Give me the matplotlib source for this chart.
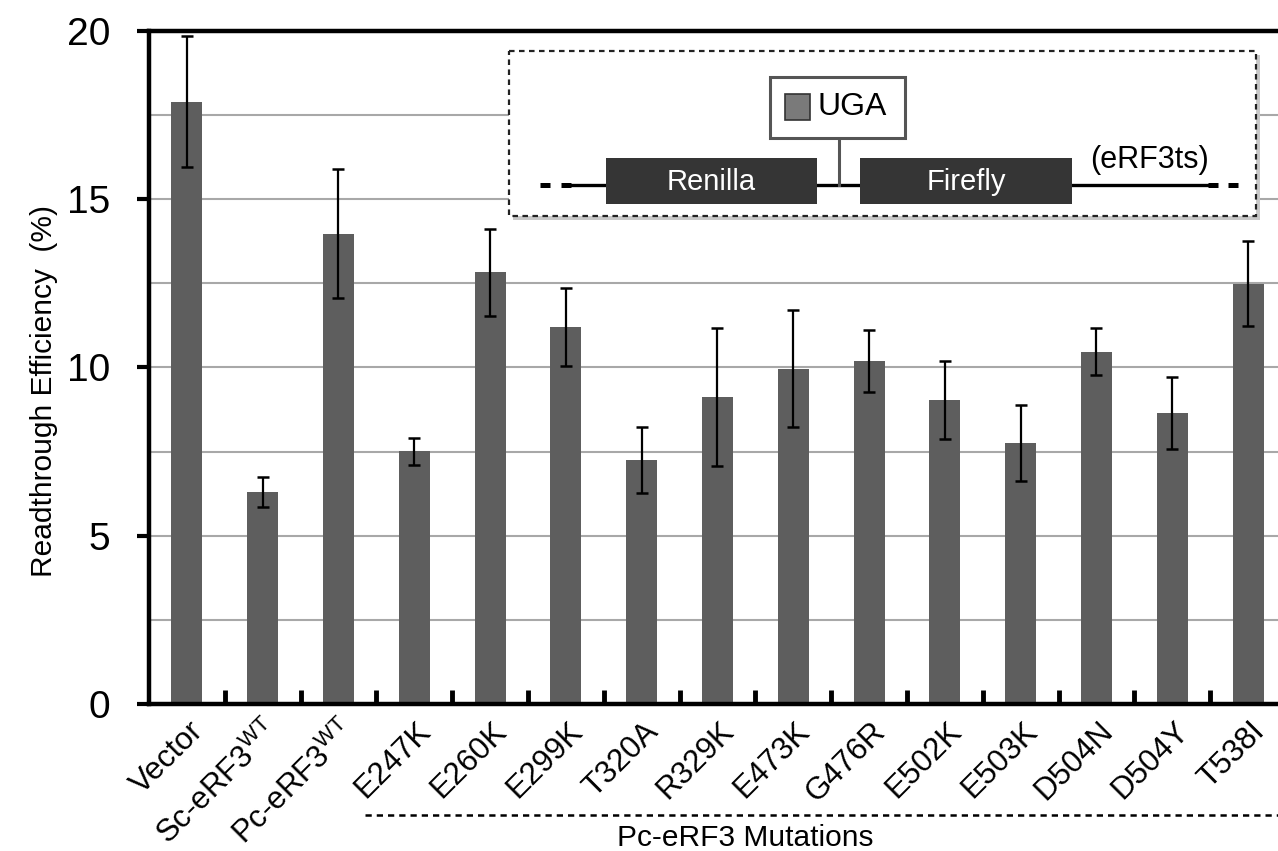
import numpy as np
import matplotlib
matplotlib.use('Agg')
import matplotlib.pyplot as plt
import matplotlib.transforms as mtransforms
from matplotlib.patches import Rectangle

plt.rcParams['font.family'] = ['Liberation Sans', 'DejaVu Sans']
plt.rcParams['mathtext.fontset'] = 'custom'
plt.rcParams['mathtext.rm'] = 'Liberation Sans'

# data
labels = ['Vector', 'Sc-eRF3$^{\\mathrm{WT}}$', 'Pc-eRF3$^{\\mathrm{WT}}$', 'E247K', 'E260K',
          'E299K', 'T320A', 'R329K', 'E473K', 'G476R', 'E502K', 'E503K', 'D504N',
          'D504Y', 'T538I']
means = [17.9, 6.3, 13.98, 7.51, 12.83, 11.2, 7.25, 9.12, 9.97, 10.18, 9.03, 7.76,
         10.47, 8.65, 12.49]
errs = [1.95, 0.46, 1.92, 0.4, 1.3, 1.17, 0.97, 2.05, 1.75, 0.92, 1.16, 1.13, 0.7,
        1.08, 1.27]

W, H = 1278, 851
fig = plt.figure(figsize=(W / 100, H / 100), dpi=100)
ax = fig.add_axes([149 / W, 1 - 704 / H, (1286 - 149) / W, (704 - 31) / H])

x = np.arange(len(labels))
ax.bar(x, means, width=0.41, color='#5e5e5e', zorder=2)
ax.errorbar(x, means, yerr=errs, fmt='none', ecolor='black', elinewidth=1.6,
            capsize=4, capthick=1.8, zorder=3)

ax.set_xlim(-0.5, len(labels) - 0.5)
ax.set_ylim(0, 20)
ax.set_yticks([0, 5, 10, 15, 20])
ax.set_yticks(np.arange(0, 20.1, 2.5), minor=True)
ax.yaxis.grid(True, which='both', color='#a8a8a8', linewidth=1.5, zorder=0)
ax.set_axisbelow(True)
ax.tick_params(axis='y', which='major', direction='out', length=9, width=3,
               labelsize=28, pad=19)
ax.tick_params(axis='y', which='minor', length=0)

ax.set_xticks(x)
ax.set_xticks(x[:-1] + 0.5, minor=True)
ax.tick_params(axis='x', which='major', length=0, pad=2)
ax.tick_params(axis='x', which='minor', direction='in', length=10, width=3.5)
ax.set_xticklabels(labels, rotation=45, ha='right', va='center',
                   rotation_mode='anchor', fontsize=22.5)
offset = mtransforms.ScaledTranslation(0.12, -0.2, fig.dpi_scale_trans)
for lab in ax.get_xticklabels():
    lab.set_transform(lab.get_transform() + offset)

for side in ['left', 'top', 'bottom', 'right']:
    ax.spines[side].set_linewidth(3.2)
    ax.spines[side].set_color('black')

ax.set_ylabel('Readthrough Efficiency  (%)', fontsize=21.5)
ax.yaxis.set_label_coords(-0.08, 0.465)

# overlay in pixel units for the schematic and group label
ov = fig.add_axes([0, 0, 1, 1])
ov.set_xlim(0, W)
ov.set_ylim(H, 0)
ov.axis('off')
ov.patch.set_alpha(0)

# inset box with shadow
ov.add_patch(Rectangle((513, 55), 747, 165, facecolor='#c8c8c8', edgecolor='none', zorder=1))
ov.add_patch(Rectangle((509, 51), 747, 165, facecolor='white', edgecolor='#222222',
                       linewidth=1.6, linestyle=(0, (2.5, 2)), zorder=2))
# construct line
ov.plot([570, 1207], [185, 185], color='black', linewidth=2.4, zorder=3)
for x0 in [540, 561, 1208, 1228]:
    ov.plot([x0, x0 + 10], [185, 185], color='black', linewidth=3.6,
            solid_capstyle='butt', zorder=3)
ov.add_patch(Rectangle((606, 158), 211, 46, facecolor='#353535', edgecolor='none', zorder=4))
ov.add_patch(Rectangle((860, 158), 212, 46, facecolor='#353535', edgecolor='none', zorder=4))
ov.text(711, 182, 'Renilla', color='white', fontsize=21, ha='center', va='center', zorder=5)
ov.text(966, 182, 'Firefly', color='white', fontsize=21, ha='center', va='center', zorder=5)
ov.text(1150, 160, '(eRF3ts)', color='black', fontsize=22, ha='center', va='center', zorder=5)
# UGA callout
ov.plot([839, 839], [138, 185], color='#555555', linewidth=2.2, zorder=3)
ov.add_patch(Rectangle((770, 77), 135, 61, facecolor='white', edgecolor='#555555',
                       linewidth=2.2, zorder=4))
ov.add_patch(Rectangle((785, 94), 25, 26, facecolor='#7a7a7a', edgecolor='#333333',
                       linewidth=1.2, zorder=5))
ov.text(852, 107, 'UGA', color='black', fontsize=23, ha='center', va='center', zorder=5)

# group label
ov.plot([365, W], [815, 815], color='black', linewidth=1.8, linestyle=(0, (2.5, 2)))
ov.text(745, 838, 'Pc-eRF3 Mutations', fontsize=21.5, ha='center', va='center')

fig.savefig('out.png', dpi=100)
